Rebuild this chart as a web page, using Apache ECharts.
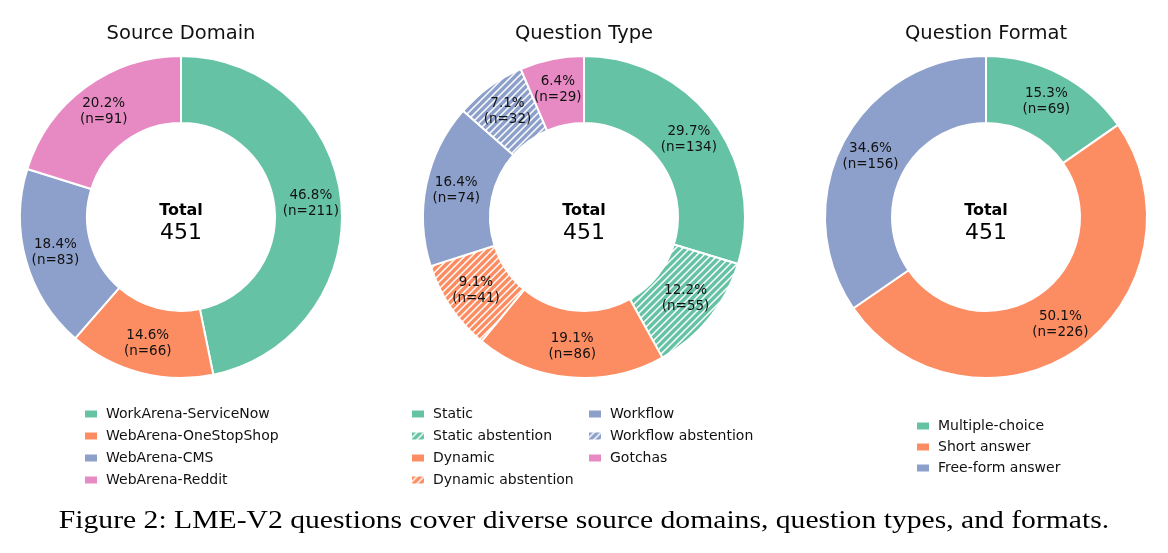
<!DOCTYPE html>
<html>
<head>
<meta charset="utf-8">
<script src="https://cdn.jsdelivr.net/npm/echarts@6/dist/echarts.min.js"></script>
<style>
  html, body { margin: 0; padding: 0; background: #fff; }
  #main { width: 1168px; height: 553px; }
</style>
</head>
<body>
<div id="main"></div>
<script>
// 数据
var sourceNames = ['WorkArena-ServiceNow', 'WebArena-OneStopShop', 'WebArena-CMS', 'WebArena-Reddit']
var sourceValues = [211, 66, 83, 91]

var typeNames = ['Static', 'Static abstention', 'Dynamic', 'Dynamic abstention', 'Workflow', 'Workflow abstention', 'Gotchas']
var typeValues = [134, 55, 86, 41, 74, 32, 29]
var typeHatched = [false, true, false, true, false, true, false]

var formatNames = ['Multiple-choice', 'Short answer', 'Free-form answer']
var formatValues = [69, 226, 156]

var titles = ['Source Domain', 'Question Type', 'Question Format']
var caption = 'Figure 2: LME-V2 questions cover diverse source domains, question types, and formats.'

var green = '#66c2a5', orange = '#fc8d62', blue = '#8da0cb', pink = '#e78ac3'
var sourceColors = [green, orange, blue, pink]
var typeColors = [green, green, orange, orange, blue, blue, pink]
var formatColors = [green, orange, blue]

var font = 'DejaVu Sans'

// 斜线填充
function hatch(color) {
  var s = 7
  var c = document.createElement('canvas')
  c.width = s; c.height = s
  var ctx = c.getContext('2d')
  ctx.fillStyle = color
  ctx.fillRect(0, 0, s, s)
  ctx.strokeStyle = '#fff'
  ctx.lineWidth = 1.5
  ctx.beginPath()
  ctx.moveTo(0, s); ctx.lineTo(s, 0)
  ctx.moveTo(-s, s); ctx.lineTo(s, -s)
  ctx.moveTo(0, 2 * s); ctx.lineTo(2 * s, 0)
  ctx.stroke()
  return { image: c, repeat: 'repeat' }
}

function build(names, values, colors, hatched) {
  return names.map(function (n, i) {
    return {
      name: n,
      value: values[i],
      itemStyle: { color: hatched && hatched[i] ? hatch(colors[i]) : colors[i] }
    }
  })
}

var centers = [[181, 217], [584, 217], [986, 217]]
var datasets = [
  build(sourceNames, sourceValues, sourceColors),
  build(typeNames, typeValues, typeColors, typeHatched),
  build(formatNames, formatValues, formatColors)
]

var series = datasets.map(function (d, k) {
  var total = d.reduce(function (a, b) { return a + b.value }, 0)
  return {
    type: 'pie',
    center: centers[k],
    radius: [94, 161],
    startAngle: 90,
    clockwise: true,
    avoidLabelOverlap: false,
    silent: true,
    animation: false,
    itemStyle: { borderColor: '#fff', borderWidth: 2 },
    label: {
      show: true,
      position: 'inside',
      fontFamily: font,
      fontSize: 13.5,
      lineHeight: 16,
      color: '#111',
      formatter: function (p) {
        return (p.value / total * 100).toFixed(1) + '%\n(n=' + p.value + ')'
      }
    },
    labelLine: { show: false },
    data: d
  }
})

var legendBase = {
  orient: 'vertical',
  icon: 'rect',
  itemWidth: 14,
  itemHeight: 9,
  itemGap: 6,
  selectedMode: false,
  textStyle: { fontFamily: font, fontSize: 14, lineHeight: 16, color: '#111', padding: [0, 0, 0, 3] }
}

var legends = [
  Object.assign({}, legendBase, { left: 78, top: 401, data: sourceNames }),
  Object.assign({}, legendBase, { left: 405, top: 401, data: typeNames.slice(0, 4) }),
  Object.assign({}, legendBase, { left: 582, top: 401, data: typeNames.slice(4) }),
  Object.assign({}, legendBase, { left: 910, top: 413, itemGap: 5, data: formatNames })
]

var graphics = []
centers.forEach(function (c, k) {
  graphics.push({
    type: 'text', x: c[0], y: 34,
    style: { text: titles[k], font: '19.5px ' + font, fill: '#111', align: 'center', verticalAlign: 'middle' }
  })
  graphics.push({
    type: 'text', x: c[0], y: 211,
    style: { text: 'Total', font: 'bold 16px ' + font, fill: '#000', align: 'center', verticalAlign: 'middle' }
  })
  graphics.push({
    type: 'text', x: c[0], y: 233,
    style: { text: '451', font: '22px ' + font, fill: '#000', align: 'center', verticalAlign: 'middle' }
  })
})
graphics.push({
  type: 'text', x: 584, y: 521, scaleX: 1.14,
  style: { text: caption, font: '26px "Liberation Serif"', fill: '#000', align: 'center', verticalAlign: 'middle' }
})

var myChart = echarts.init(document.getElementById('main'))
myChart.setOption({
  backgroundColor: '#fff',
  animation: false,
  legend: legends,
  series: series,
  graphic: graphics
})
</script>
</body>
</html>
